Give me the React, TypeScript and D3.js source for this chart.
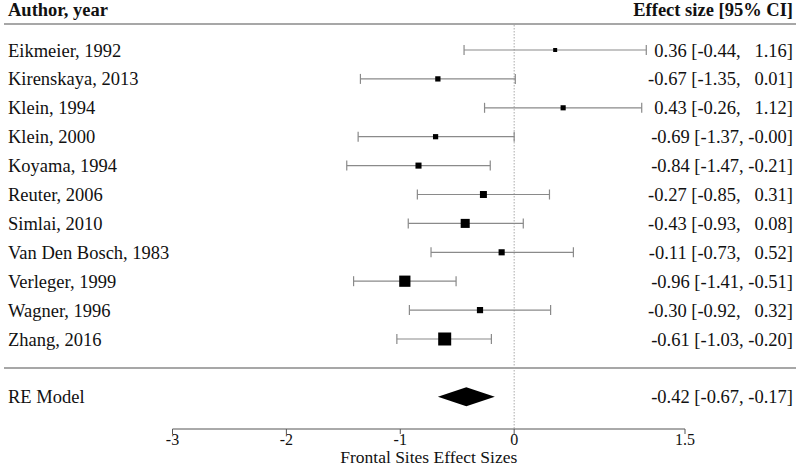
import React from "react";
import * as d3 from "d3";

const studies = [
  "Eikmeier, 1992",
  "Kirenskaya, 2013",
  "Klein, 1994",
  "Klein, 2000",
  "Koyama, 1994",
  "Reuter, 2006",
  "Simlai, 2010",
  "Van Den Bosch, 1983",
  "Verleger, 1999",
  "Wagner, 1996",
  "Zhang, 2016",
];
const estimates = [0.36, -0.67, 0.43, -0.69, -0.84, -0.27, -0.43, -0.11, -0.96, -0.3, -0.61];
const ciLower = [-0.44, -1.35, -0.26, -1.37, -1.47, -0.85, -0.93, -0.73, -1.41, -0.92, -1.03];
const ciUpper = [1.16, 0.01, 1.12, -0.0, -0.21, 0.31, 0.08, 0.52, -0.51, 0.32, -0.2];
const weights = [4.7, 6.5, 6.3, 6.4, 7.6, 8.9, 11.8, 7.7, 14.9, 7.8, 17.4];

const reLabel = "RE Model";
const reEstimate = -0.42;
const reLower = -0.67;
const reUpper = -0.17;

const xTicks = [-3, -2, -1, 0, 1.5];
const xLabel = "Frontal Sites Effect Sizes";
const headerLeft = "Author, year";
const headerRight = "Effect size [95% CI]";

const W = 800;
const H = 468;
const FONT = "Liberation Serif, Times New Roman, Times, serif";

function fmt(v: number) {
  const s = Math.abs(v).toFixed(2);
  return v < 0 || Object.is(v, -0) ? "-" + s : s;
}
function fmtCI(est: number, lo: number, hi: number) {
  const pad = (v: number) => (v < 0 || Object.is(v, -0) ? fmt(v) : "\u00a0\u00a0" + fmt(v));
  return `${fmt(est)} [${pad(lo)}, ${pad(hi)}]`;
}

export default function App() {
  const x = d3.scaleLinear().domain([-3, 1.5]).range([172.5, 685]);
  const k = studies.length;
  const y = d3.scaleLinear().domain([k, -1]).range([50, 396.8]);
  const size = d3
    .scaleLinear()
    .domain([d3.min(weights) as number, d3.max(weights) as number])
    .range([4, 13]);

  const lineGray = "#8a8a8a";
  const txt = "#111";
  const fs = 18.5;
  const tStyle = { fontFamily: FONT, fontSize: fs, whiteSpace: "pre" } as React.CSSProperties;

  return (
    <svg
      width={W}
      height={H}
      style={{ position: "absolute", left: 0, top: 0, background: "#fff", fontFamily: FONT }}
    >
      {/* header */}
      <text x={8} y={16} style={{ ...tStyle, fontWeight: "bold" }} fill={txt}>
        {headerLeft}
      </text>
      <text x={793} y={16} style={{ ...tStyle, fontWeight: "bold" }} fill={txt} textAnchor="end">
        {headerRight}
      </text>
      <line x1={4} x2={796} y1={24} y2={24} stroke={lineGray} strokeWidth={1.5} />
      <line x1={4} x2={796} y1={y(0)} y2={y(0)} stroke={lineGray} strokeWidth={1.5} />

      {/* reference line */}
      <line
        x1={x(0)}
        x2={x(0)}
        y1={25}
        y2={429}
        stroke="#aaa"
        strokeWidth={1}
        strokeDasharray="1.5,1.5"
      />

      {studies.map((s, i) => {
        const row = k - i;
        const cy = y(row);
        const sz = size(weights[i]);
        return (
          <g key={s}>
            <text x={8} y={cy + 6.5} style={tStyle} fill={txt}>
              {s}
            </text>
            <line x1={x(ciLower[i])} x2={x(ciUpper[i])} y1={cy} y2={cy} stroke={lineGray} strokeWidth={1.2} />
            <line x1={x(ciLower[i])} x2={x(ciLower[i])} y1={cy - 5} y2={cy + 5} stroke={lineGray} strokeWidth={1.2} />
            <line x1={x(ciUpper[i])} x2={x(ciUpper[i])} y1={cy - 5} y2={cy + 5} stroke={lineGray} strokeWidth={1.2} />
            <rect x={x(estimates[i]) - sz / 2} y={cy - sz / 2} width={sz} height={sz} fill="#000" />
            <text x={793} y={cy + 6.5} style={tStyle} fill={txt} textAnchor="end">
              {fmtCI(estimates[i], ciLower[i], ciUpper[i])}
            </text>
          </g>
        );
      })}

      {/* RE model */}
      <text x={8} y={y(-1) + 6.5} style={tStyle} fill={txt}>
        {reLabel}
      </text>
      <polygon
        points={[
          [x(reLower), y(-1)],
          [x(reEstimate), y(-1) - 9.5],
          [x(reUpper), y(-1)],
          [x(reEstimate), y(-1) + 9.5],
        ]
          .map((p) => p.join(","))
          .join(" ")}
        fill="#000"
      />
      <text x={793} y={y(-1) + 6.5} style={tStyle} fill={txt} textAnchor="end">
        {fmtCI(reEstimate, reLower, reUpper)}
      </text>

      {/* axis */}
      <line x1={x(-3)} x2={x(1.5)} y1={429} y2={429} stroke="#555" strokeWidth={1} />
      {xTicks.map((t) => (
        <g key={t}>
          <line x1={x(t)} x2={x(t)} y1={429} y2={434} stroke="#555" strokeWidth={1} />
          <text x={x(t)} y={445} style={{ ...tStyle, fontSize: 16 }} fill={txt} textAnchor="middle">
            {t < 0 ? "-" + Math.abs(t) : String(t)}
          </text>
        </g>
      ))}
      <text x={(x(-3) + x(1.5)) / 2} y={463} style={{ ...tStyle, fontSize: 17.5 }} fill={txt} textAnchor="middle">
        {xLabel}
      </text>
    </svg>
  );
}
